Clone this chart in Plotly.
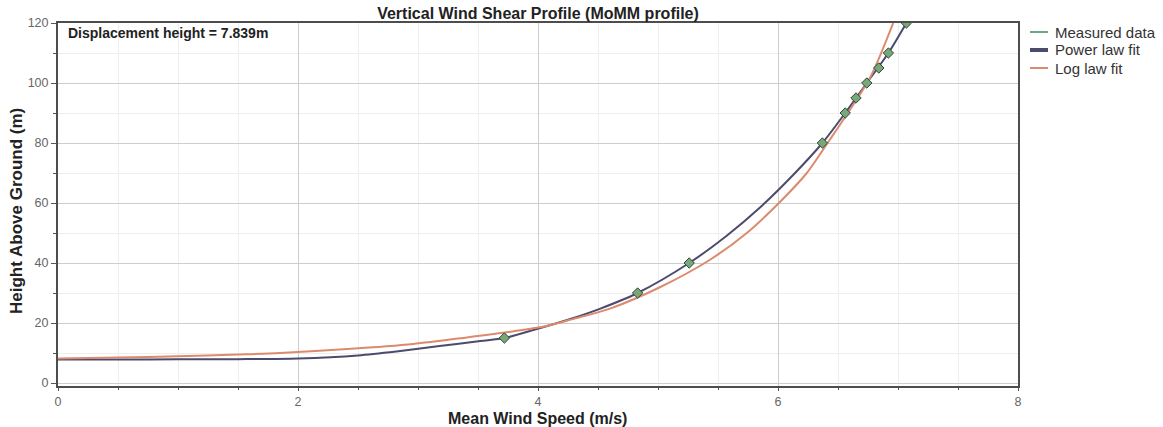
import plotly.graph_objects as go

# ---- data ----
measured_speed = [3.72, 4.83, 5.26, 6.37, 6.56, 6.65, 6.74, 6.84, 6.92, 7.07]
measured_height = [15, 30, 40, 80, 90, 95, 100, 105, 110, 120]

power_speed = [0.0, 0.5, 1.0, 1.5, 2.0, 2.5, 2.82, 3.18, 3.52, 3.72, 3.99, 4.29,
               4.52, 4.83, 5.26, 5.57, 5.85, 6.13, 6.37, 6.56, 6.74, 6.92, 7.07]
power_height = [7.84, 7.85, 7.88, 7.95, 8.2, 9.2, 10.5, 12.3, 14.0, 15.0, 18.0, 21.6,
                24.8, 30.0, 40.0, 49.0, 58.5, 69.5, 80.0, 90.0, 100.0, 110.0, 120.0]

log_speed = [0.0, 0.5, 1.0, 1.5, 1.85, 2.41, 2.96, 3.41, 3.79, 4.07, 4.29, 4.6,
             5.02, 5.43, 5.74, 6.02, 6.24, 6.43, 6.54, 6.77, 6.96]
log_height = [8.2, 8.5, 8.9, 9.5, 10.0, 11.3, 13.0, 15.2, 17.2, 19.0, 21.3, 24.8,
              32.0, 41.0, 50.0, 60.5, 70.0, 81.0, 87.5, 102.0, 120.0]

series_names = ["Measured data", "Power law fit", "Log law fit"]
title_text = "Vertical Wind Shear Profile (MoMM profile)"
x_title = "Mean Wind Speed (m/s)"
y_title = "Height Above Ground (m)"
note_text = "Displacement height = 7.839m"

# ---- styles ----
C_MEAS = "#6aaa80"
C_POW = "#4b4b6e"
C_LOG = "#dc8a6e"
FONT = "Liberation Sans, Arial, sans-serif"

W, H = 1163, 427
ML, MR, MT, MB = 58, 145, 23, 41
PW = W - ML - MR
PH = H - MT - MB


def px_x(px):
    return (px - ML) / PW


def px_y(py):
    return (H - MB - py) / PH


fig = go.Figure()

fig.add_trace(go.Scatter(x=power_speed, y=power_height, mode="lines",
                         line=dict(color=C_POW, width=2, shape="spline", smoothing=0.8),
                         name=series_names[1], showlegend=False))
fig.add_trace(go.Scatter(x=log_speed, y=log_height, mode="lines",
                         line=dict(color=C_LOG, width=2, shape="spline", smoothing=0.8),
                         name=series_names[2], showlegend=False))
fig.add_trace(go.Scatter(x=measured_speed, y=measured_height, mode="markers",
                         marker=dict(symbol="diamond", size=8, color="#76a878",
                                     line=dict(color="#34463a", width=1)),
                         name=series_names[0], showlegend=False))

axis_common = dict(
    showline=True, linecolor="#4d4d4d", linewidth=2, mirror=True,
    ticks="outside", tickcolor="#555", tickwidth=1,
    showgrid=True, gridcolor="#cdcdcd", gridwidth=1, zeroline=False,
    tickfont=dict(family=FONT, size=12.5, color="#666"),
)

fig.update_xaxes(range=[0, 8], tick0=0, dtick=2, ticklen=3,
                 minor=dict(dtick=0.5, showgrid=True, gridcolor="#eeeeee",
                            ticks="outside", ticklen=2, tickcolor="#555"),
                 **axis_common)
fig.update_yaxes(range=[-1, 120], tick0=0, dtick=20, ticklen=5,
                 minor=dict(dtick=10, showgrid=True, gridcolor="#eeeeee",
                            ticks="outside", ticklen=3, tickcolor="#555"),
                 **axis_common)

annotations = [
    dict(text="<b>" + note_text + "</b>", x=px_x(66), y=px_y(33), xref="paper", yref="paper",
         xanchor="left", yanchor="middle", showarrow=False,
         font=dict(family=FONT, size=14, color="#222")),
    dict(text="<b>" + x_title + "</b>", x=px_x(537), y=px_y(418), xref="paper", yref="paper",
         xanchor="center", yanchor="middle", showarrow=False,
         font=dict(family=FONT, size=16, color="#222")),
    dict(text="<b>" + y_title + "</b>", x=px_x(16), y=px_y(211), xref="paper", yref="paper",
         xanchor="center", yanchor="middle", showarrow=False, textangle=-90,
         font=dict(family=FONT, size=17, color="#222")),
]

shapes = []
legend_colors = [C_MEAS, C_POW, C_LOG]
legend_widths = [2, 4, 2]
legend_py = [32, 50, 68]
for name, col, lw, py in zip(series_names, legend_colors, legend_widths, legend_py):
    shapes.append(dict(type="line", xref="paper", yref="paper",
                       x0=px_x(1030), x1=px_x(1048), y0=px_y(py), y1=px_y(py),
                       line=dict(color=col, width=lw)))
    annotations.append(dict(text=name, x=px_x(1053), y=px_y(py), xref="paper", yref="paper",
                            xanchor="left", yanchor="middle", showarrow=False,
                            font=dict(family=FONT, size=15, color="#333")))

fig.update_layout(
    width=W, height=H, autosize=False,
    margin=dict(l=ML, r=MR, t=MT, b=MB),
    paper_bgcolor="white", plot_bgcolor="white",
    title=dict(text="<b>" + title_text + "</b>", xref="paper", x=0.5, xanchor="center",
               yref="container", y=1 - 13 / H, yanchor="middle",
               font=dict(family=FONT, size=16, color="#222")),
    annotations=annotations, shapes=shapes, showlegend=False,
)

fig.write_html("out.html")
